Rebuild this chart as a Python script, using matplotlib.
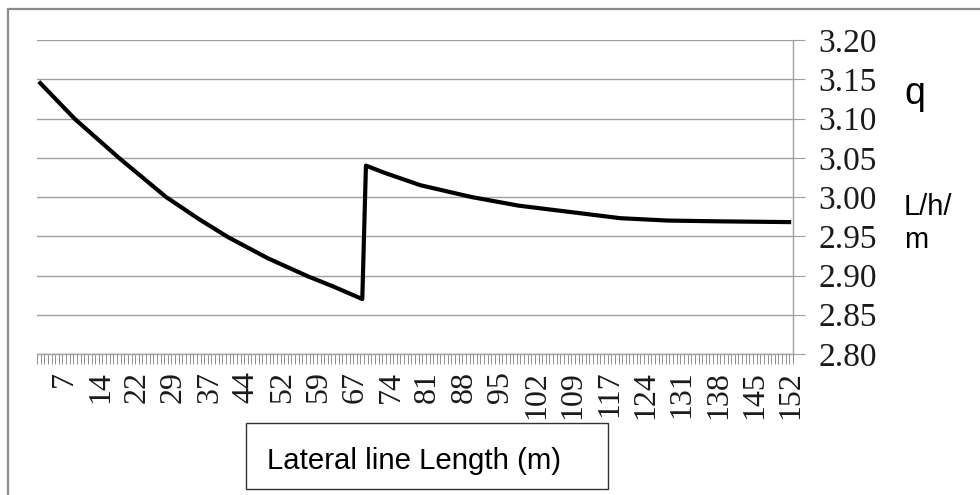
import numpy as np
import matplotlib
matplotlib.use("Agg")
import matplotlib.pyplot as plt
from matplotlib.patches import Rectangle
from matplotlib.ticker import FixedLocator, FormatStrFormatter

# ---- data ----
n_categories = 208
label_values = [7, 14, 22, 29, 37, 44, 52, 59, 67, 74, 81, 88, 95, 102,
                109, 117, 124, 131, 138, 145, 152]
label_positions = [7 + 10 * i for i in range(len(label_values))]

sample_idx = [0, 10, 22, 35, 44, 52, 63, 74, 81, 89, 90, 95, 105, 119, 132,
              146, 160, 173, 187, 207]
q_values = [3.147, 3.099, 3.050, 3.000, 2.972, 2.949, 2.922, 2.899, 2.886,
            2.870, 3.040, 3.031, 3.015, 3.000, 2.989, 2.981, 2.973, 2.970,
            2.969, 2.968]

y_ticks = [2.80, 2.85, 2.90, 2.95, 3.00, 3.05, 3.10, 3.15, 3.20]

# ---- figure ----
W, H = 980, 495
fig = plt.figure(figsize=(W / 100, H / 100), dpi=100)
ax = fig.add_axes([37 / W, 1 - 354 / H, (793 - 37) / W, (354 - 40) / H])

grid_col = "#a0a0a0"
ax.plot(sample_idx, q_values, color="black", lw=3.0,
        solid_joinstyle="round", solid_capstyle="butt", zorder=3)

ax.set_xlim(-0.5, n_categories - 0.5)
ax.set_ylim(y_ticks[0], y_ticks[-1])

# y axis on the right
ax.yaxis.tick_right()
ax.set_yticks(y_ticks)
ax.yaxis.set_major_formatter(FormatStrFormatter("%.2f"))
ax.grid(axis="y", color=grid_col, lw=1.0)
ax.set_axisbelow(True)
ax.tick_params(axis="y", which="major", direction="out", length=8.5,
               width=0.8, color=grid_col, pad=10, labelsize=24,
               labelfontfamily="Liberation Serif", labelcolor="#1a1a1a")

# x axis: category ticks at boundaries, labels every 10th category
ax.set_xticks(label_positions)
ax.set_xticklabels([str(v) for v in label_values], rotation=90,
                   family="Liberation Serif", fontsize=23, color="#1a1a1a")
ax.xaxis.set_minor_locator(FixedLocator(np.arange(-0.5, n_categories, 1.0)))
ax.tick_params(axis="x", which="major", length=0, pad=12)
ax.tick_params(axis="x", which="minor", direction="out", length=7,
               width=0.7, color="#909090")

for s in ("top", "left"):
    ax.spines[s].set_visible(False)
for s in ("bottom", "right"):
    ax.spines[s].set_color(grid_col)
    ax.spines[s].set_linewidth(1.0)

# ---- texts ----
fig.text(904 / W, 1 - 104 / H, "q", family="Liberation Sans", fontsize=27,
         ha="left", va="baseline")
fig.text(904 / W, 1 - 215 / H, "L/h/", family="Liberation Sans", fontsize=21,
         ha="left", va="baseline")
fig.text(904 / W, 1 - 248 / H, "m", family="Liberation Sans", fontsize=21,
         ha="left", va="baseline")

# axis-title box
fig.add_artist(Rectangle((246 / W, 1 - 489 / H), (608 - 246) / W, (489 - 423) / H,
                         transform=fig.transFigure, fill=False,
                         edgecolor="#333333", lw=1.0))
fig.text(267 / W, 1 - 469 / H, "Lateral line Length (m)",
         family="Liberation Sans", fontsize=21.2, ha="left", va="baseline")

# outer chart border
fig.add_artist(Rectangle((8 / W, -0.1), 1.2, 1 - 9 / H + 0.1,
                         transform=fig.transFigure, fill=False,
                         edgecolor="#8c8c8c", lw=1.6))

fig.savefig("out.png", dpi=100, facecolor="white")
